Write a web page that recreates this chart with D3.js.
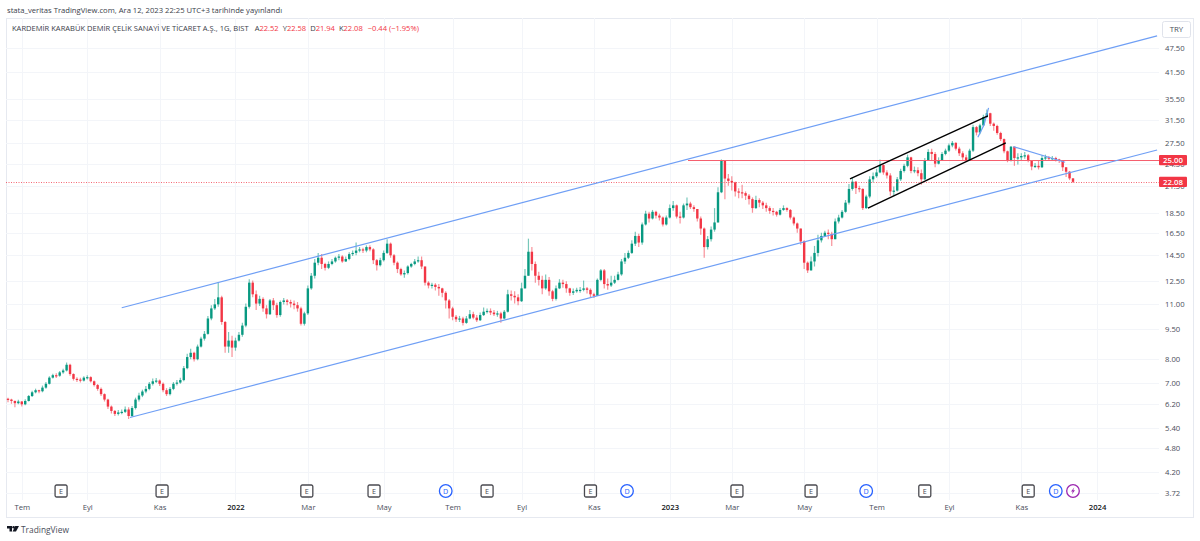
<!DOCTYPE html>
<html>
<head>
<meta charset="utf-8">
<script src="https://cdn.jsdelivr.net/npm/d3@7"></script>
<style>
	html, body { margin: 0; padding: 0; background: #fff; }
	svg { display: block; }
	text { font-family: "Open Sans", "Noto Sans", sans-serif; }
</style>
</head>
<body>
<svg id="chart" width="1200" height="541"></svg>
<script>
// candles, roughly one per two sessions
const closes = [
	6.35,6.30,6.22,6.28,6.18,6.30,6.48,6.62,6.70,6.66,
	6.8,6.95,7.2,7.3,7.28,7.42,7.5,7.75,7.35,7.15,
	7.12,7.08,7.2,7.22,7.05,6.9,6.75,6.55,6.35,6.1,
	5.95,5.85,5.9,5.92,6.0,5.78,6.05,6.35,6.5,6.65,
	6.75,6.95,7.05,7.08,6.95,6.7,6.55,6.75,6.95,7.0,
	7.1,7.6,8.1,8.3,8.0,8.6,9.0,9.25,10.1,10.7,
	10.95,11.4,9.9,8.6,8.9,8.55,8.9,9.2,9.7,10.8,
	12.4,11.6,11.0,11.3,10.7,10.35,11.2,10.9,10.3,11.1,
	11.2,11.1,11.0,10.9,10.7,9.8,10.4,12.0,12.9,13.9,
	14.3,13.8,13.5,13.8,14.0,14.3,14.4,14.0,14.2,14.6,
	14.7,14.9,15.0,14.9,15.2,15.0,14.1,13.7,14.1,14.7,
	15.5,14.5,13.9,13.4,13.0,13.1,13.6,13.8,14.0,14.1,
	13.6,12.4,12.2,12.25,12.1,12.0,11.7,11.2,10.7,10.2,
	10.05,10.1,9.85,10.1,10.35,10.15,10.0,10.3,10.5,10.55,
	10.45,10.35,10.4,10.1,10.5,11.6,11.5,11.4,11.15,12.0,
	12.9,14.8,13.8,12.9,12.6,12.0,12.6,11.8,11.3,12.0,
	12.4,12.3,12.0,11.7,11.8,11.9,11.9,12.0,11.9,11.6,
	11.5,12.6,13.3,12.3,12.2,12.4,12.6,13.0,14.0,14.3,
	14.7,15.5,16.2,15.6,17.3,18.4,17.9,18.6,18.2,18.0,
	17.3,18.0,19.0,19.3,18.1,18.0,19.3,19.5,19.1,18.9,
	17.9,16.9,15.2,15.9,16.8,17.5,20.8,24.9,22.5,22.2,
	22.0,20.9,20.8,20.7,20.4,20.0,19.0,19.9,19.6,19.3,
	19.0,18.7,18.6,18.3,18.8,19.0,18.8,18.0,17.4,16.9,
	15.7,13.9,13.3,14.0,14.7,15.8,16.2,16.5,16.4,15.9,
	17.6,18.0,18.6,19.6,21.2,22.1,21.3,21.2,19.0,20.3,
	22.4,22.8,23.3,24.3,23.3,22.9,20.9,21.0,22.4,23.5,
	24.2,25.4,23.5,23.6,23.2,22.4,25.0,26.2,25.9,24.5,
	25.0,25.9,26.4,27.2,27.6,26.7,26.0,25.4,25.0,26.4,
	30.2,29.3,30.5,32.0,32.7,30.8,30.4,29.2,28.2,26.3,
	25.0,27.0,25.3,25.4,25.6,25.7,24.9,24.1,24.2,24.0,
	25.3,25.4,25.2,25.3,25.1,24.9,24.0,23.4,22.52,22.08
];
const highs = [
	6.42,6.38,6.32,6.34,6.30,6.36,6.52,6.68,6.76,6.72,
	6.88,7.02,7.26,7.36,7.38,7.48,7.58,7.85,7.8,7.38,
	7.22,7.2,7.26,7.3,7.26,7.08,6.94,6.8,6.58,6.38,
	6.14,5.98,5.98,6.0,6.1,6.08,6.12,6.42,6.6,6.72,
	6.86,7.02,7.16,7.18,7.12,7.0,6.78,6.82,7.02,7.1,
	7.2,7.7,8.25,8.5,8.35,8.7,9.1,9.4,10.25,10.9,
	11.3,12.45,11.5,9.95,9.35,9.15,9.05,9.35,9.85,11.0,
	12.65,12.55,11.85,11.5,11.4,10.9,11.3,11.35,11.05,11.2,
	11.35,11.3,11.25,11.2,11.1,10.8,10.5,12.2,13.1,14.2,
	14.7,14.6,13.9,14.0,14.2,14.4,14.6,14.5,14.4,14.75,
	14.9,15.6,15.2,15.15,15.35,15.35,15.1,14.2,14.3,14.9,
	15.9,15.6,14.6,14.0,13.5,13.3,13.7,13.9,14.2,14.4,
	14.4,13.6,12.5,12.4,12.35,12.3,12.05,11.8,11.3,10.8,
	10.3,10.25,10.2,10.25,10.6,10.5,10.3,10.45,10.75,10.7,
	10.7,10.6,10.55,10.5,10.6,11.9,11.85,11.8,11.6,12.4,
	13.4,15.95,15.2,14.0,13.2,12.9,13.0,12.8,11.9,12.2,
	12.65,12.6,12.5,12.05,12.0,12.05,12.1,12.55,12.1,12.0,
	11.7,12.7,13.4,13.4,12.7,12.9,12.9,13.2,14.2,14.7,
	14.9,15.8,16.6,16.4,17.5,18.7,18.6,18.8,18.7,18.4,
	18.1,18.2,19.4,19.8,19.4,18.6,19.5,20.2,19.7,19.3,
	18.9,18.1,17.0,16.2,17.1,19.0,21.4,25.1,24.8,23.1,
	22.8,22.1,21.3,21.7,20.9,20.6,20.2,20.4,20.1,19.8,
	19.6,19.2,19.0,18.7,19.0,19.3,19.1,18.9,18.1,17.5,
	16.9,15.8,14.0,14.4,15.3,16.3,16.5,16.7,16.8,16.6,
	17.9,18.3,18.8,19.9,21.8,22.7,22.2,21.6,21.3,20.5,
	22.8,23.3,23.8,25.1,24.4,23.6,23.2,21.5,22.7,23.8,
	24.5,25.8,25.5,24.1,24.0,23.7,25.3,26.6,26.7,26.2,
	25.4,26.2,26.7,27.5,27.9,27.7,27.0,26.3,25.8,26.7,
	30.6,30.4,30.8,32.4,33.4,32.8,31.0,30.6,29.4,28.3,
	26.4,27.1,27.0,26.0,26.0,26.2,25.9,25.0,24.6,24.9,
	25.7,25.8,25.6,25.6,25.5,25.2,25.0,24.0,23.5,22.58
];
const lows = [
	6.25,6.2,6.08,6.18,6.1,6.15,6.28,6.44,6.58,6.58,
	6.62,6.76,6.92,7.16,7.18,7.24,7.36,7.46,7.28,7.08,
	7.02,7.0,7.04,7.12,7.0,6.84,6.68,6.48,6.28,6.02,
	5.86,5.78,5.8,5.84,5.88,5.68,5.75,6.0,6.28,6.44,
	6.58,6.7,6.88,6.98,6.86,6.62,6.48,6.5,6.7,6.88,
	6.95,7.05,7.55,8.0,7.9,7.95,8.55,8.9,9.2,10.0,
	10.6,10.8,9.75,8.3,8.3,8.1,8.4,8.85,9.1,9.6,
	10.7,11.4,10.6,10.85,10.5,10.1,10.3,10.6,10.15,10.2,
	10.95,10.9,10.75,10.65,10.5,9.7,9.7,10.3,11.9,12.7,
	13.7,13.4,13.3,13.4,13.7,13.9,14.1,13.9,13.95,14.1,
	14.45,14.5,14.75,14.7,14.75,14.85,13.8,13.3,13.6,14.0,
	14.6,14.3,13.7,13.1,12.9,12.75,13.0,13.5,13.7,13.9,
	13.4,12.2,12.0,12.0,11.85,11.5,11.4,10.7,10.1,10.0,
	9.9,9.9,9.7,9.8,10.05,10.05,9.9,9.95,10.25,10.4,
	10.3,10.25,10.2,9.85,10.05,10.45,11.2,11.0,10.9,11.1,
	12.0,12.9,13.3,12.4,12.2,11.6,11.9,11.5,11.15,11.2,
	11.95,12.05,11.7,11.5,11.55,11.7,11.7,11.8,11.65,11.4,
	11.35,11.5,12.5,12.0,11.9,12.1,12.3,12.55,12.9,13.8,
	14.2,14.6,15.3,15.2,15.4,17.2,17.5,17.8,17.9,17.7,
	17.1,17.2,17.9,18.7,17.9,17.4,17.9,18.8,18.9,18.6,
	17.6,16.3,14.3,15.0,15.7,16.6,17.5,20.7,20.0,21.6,
	21.0,20.3,20.1,20.1,19.9,19.4,18.5,18.9,19.1,18.9,
	18.6,18.4,18.2,18.1,18.2,18.7,18.6,17.8,17.2,16.5,
	15.4,13.4,13.1,13.3,13.6,14.4,15.6,16.1,15.9,15.3,
	15.9,17.4,17.9,18.5,19.4,21.0,20.6,20.8,18.8,18.9,
	20.1,22.0,22.6,23.2,23.0,22.5,20.4,20.4,20.9,22.2,
	23.3,24.0,23.2,23.2,22.8,21.7,22.3,24.9,25.0,24.0,
	24.4,24.9,25.7,26.2,26.9,26.4,25.6,25.0,24.8,25.0,
	26.2,28.8,29.0,30.3,31.8,30.4,29.6,28.9,27.9,26.0,
	24.7,24.8,24.2,24.4,25.0,25.2,24.7,23.6,23.9,23.7,
	23.9,25.0,24.9,24.9,24.8,24.6,23.5,22.7,22.3,21.94
];
const firstOpen = 6.38;

const priceTicks = [47.5,41.5,35.5,31.5,27.5,24.5,21.5,18.5,16.5,14.5,12.5,11,9.5,8,7,6.2,5.4,4.8,4.2,3.72];
const timeLabels = ["Tem","Eyl","Kas","2022","Mar","May","Tem","Eyl","Kas","2023","Mar","May","Tem","Eyl","Kas","2024"];
const timeBars = [4,23,44,66,87,109,129,149,170,192,210,231,252,273,294,316];

const earningsBars = [15.4,44.7,86.7,106.2,139,169,211.5,233,266,296];
const dividendBars = [127,179.6,249,304];
const splitBar = 309;

// drawings as [bar, price] pairs
const channelUpper = [[33,10.74],[333.4,50.9]];
const channelLower = [[35.4,5.73],[333.4,26.5]];
const blackUpper = [[244.3,22.46],[284.3,32.2]];
const blackLower = [[249.5,19.0],[289.5,27.6]];
const wedgeLine = [[291.7,27.0],[306.7,24.7]];
const peakLine = [[281.4,28.5],[283.2,30.6],[284.5,33.7]];
const resistance = 25;
const resistanceStart = 197.3;
const lastPrice = 22.08;

const titleText = "stata_veritas TradingView.com, Ara 12, 2023 22:25 UTC+3 tarihinde yayınlandı";
const symbolText = "KARDEMİR KARABÜK DEMİR ÇELİK SANAYİ VE TİCARET A.Ş., 1G, BIST";
const ohlcLetters = ["A","Y","D","K"];
const ohlcValues = ["22.52","22.58","21.94","22.08"];
const changeText = "−0.44 (−1.95%)";

const GREEN = "#089981", RED = "#f23645", BLUE = "#6f9ff5", GRID = "#f3f5f9", TEXT = "#4a4e5a";

const svg = d3.select("#chart");
const plotLeft = 6, plotRight = 1159, plotTop = 18, plotBottom = 500;

const x = d3.scaleLinear().domain([0, closes.length - 1]).range([8, 1073]);
const y = d3.scaleLog().domain([3.72, 47.5]).range([493, 48]);

// frame
svg.append("rect")
	.attr("x", plotLeft + 0.5).attr("y", plotTop + 0.5)
	.attr("width", 1193 - plotLeft).attr("height", 517 - plotTop)
	.attr("fill", "none").attr("stroke", "#e6e9f0");

// grid
svg.append("g").selectAll("line").data(priceTicks).enter().append("line")
	.attr("x1", plotLeft).attr("x2", plotRight)
	.attr("y1", d => Math.round(y(d)) + 0.5).attr("y2", d => Math.round(y(d)) + 0.5)
	.attr("stroke", GRID);
svg.append("g").selectAll("line").data(timeBars).enter().append("line")
	.attr("x1", d => Math.round(x(d)) + 0.5).attr("x2", d => Math.round(x(d)) + 0.5)
	.attr("y1", plotTop).attr("y2", plotBottom)
	.attr("stroke", GRID);

// axes
const yAxis = d3.axisRight(y).tickValues(priceTicks).tickSize(0).tickPadding(0)
	.tickFormat(d => d.toFixed(2));
const gy = svg.append("g").attr("transform", "translate(1165,0)").call(yAxis);
gy.select(".domain").remove();
gy.selectAll("text").attr("font-size", 7.7).attr("fill", TEXT).attr("font-family", "'Open Sans'");

const xAxis = d3.axisBottom(x).tickValues(timeBars).tickSize(0).tickPadding(0)
	.tickFormat((d, i) => timeLabels[i]);
const gx = svg.append("g").attr("transform", "translate(0,504.5)").call(xAxis);
gx.select(".domain").remove();
gx.selectAll("text").attr("font-size", 7.7).attr("font-family", "'Open Sans'")
	.attr("fill", d => /^\d+$/.test(timeLabels[timeBars.indexOf(d)]) ? "#131722" : TEXT)
	.attr("font-weight", d => /^\d+$/.test(timeLabels[timeBars.indexOf(d)]) ? 600 : 400);

// candles
const candles = closes.map((c, i) => ({
	i: i,
	open: i == 0 ? firstOpen : closes[i - 1],
	high: highs[i],
	low: lows[i],
	close: c
}));
const candleColor = d => d.close >= d.open ? GREEN : RED;

const plot = svg.append("g");
plot.selectAll(".wick").data(candles).enter().append("line")
	.attr("class", "wick")
	.attr("x1", d => x(d.i)).attr("x2", d => x(d.i))
	.attr("y1", d => y(d.high)).attr("y2", d => y(d.low))
	.attr("stroke", candleColor).attr("stroke-opacity", 0.55).attr("stroke-width", 1.2);
plot.selectAll(".body").data(candles).enter().append("rect")
	.attr("class", "body")
	.attr("x", d => x(d.i) - 1.2)
	.attr("width", 2.4)
	.attr("y", d => y(Math.max(d.open, d.close)))
	.attr("height", d => Math.max(1.2, Math.abs(y(d.open) - y(d.close))))
	.attr("fill", candleColor);

// last price and resistance lines
const priceLine = d3.line().x(d => x(d[0])).y(d => y(d[1]));
svg.append("line")
	.attr("x1", plotLeft).attr("x2", plotRight)
	.attr("y1", Math.round(y(lastPrice)) + 0.5).attr("y2", Math.round(y(lastPrice)) + 0.5)
	.attr("stroke", RED).attr("stroke-opacity", 0.75)
	.attr("stroke-dasharray", "1 1.5");
svg.append("line")
	.attr("x1", x(resistanceStart)).attr("x2", plotRight)
	.attr("y1", Math.round(y(resistance)) + 0.5).attr("y2", Math.round(y(resistance)) + 0.5)
	.attr("stroke", "#f5606f").attr("stroke-width", 1);

// trend lines
[channelUpper, channelLower, wedgeLine, peakLine].forEach(pts => {
	svg.append("path").attr("d", priceLine(pts))
		.attr("fill", "none").attr("stroke", BLUE).attr("stroke-width", 1.2);
});
[blackUpper, blackLower].forEach(pts => {
	svg.append("path").attr("d", priceLine(pts))
		.attr("fill", "none").attr("stroke", "#000").attr("stroke-width", 1.4);
});

// price labels, drawn over the axis ticks the way the platform does
[resistance, lastPrice].forEach(p => {
	svg.append("rect")
		.attr("x", 1159).attr("y", y(p) - 5.2)
		.attr("width", 28).attr("height", 10.4).attr("rx", 1)
		.attr("fill", RED);
	svg.append("text")
		.attr("x", 1173).attr("y", y(p) + 2.8)
		.attr("text-anchor", "middle")
		.attr("font-size", 7.8).attr("font-weight", 600).attr("fill", "#fff")
		.text(p.toFixed(2));
});

// currency box
svg.append("rect")
	.attr("x", 1162.5).attr("y", 21.5).attr("width", 28).attr("height", 16).attr("rx", 2)
	.attr("fill", "#fff").attr("stroke", "#e0e3eb");
svg.append("text")
	.attr("x", 1176.5).attr("y", 32.3).attr("text-anchor", "middle")
	.attr("font-size", 7.8).attr("fill", TEXT).text("TRY");

// event markers
const markerY = 491;
const earnings = svg.append("g").selectAll("g").data(earningsBars).enter().append("g")
	.attr("transform", d => "translate(" + x(d) + "," + markerY + ")");
earnings.append("rect")
	.attr("x", -6).attr("y", -6).attr("width", 12).attr("height", 12).attr("rx", 1.5)
	.attr("fill", "#fff").attr("stroke", "#4a4a50").attr("stroke-width", 1.3);
earnings.append("text")
	.attr("y", 2.6).attr("text-anchor", "middle").attr("font-size", 7.2).attr("fill", "#4a4a50")
	.text("E");

const dividends = svg.append("g").selectAll("g").data(dividendBars).enter().append("g")
	.attr("transform", d => "translate(" + x(d) + "," + markerY + ")");
dividends.append("circle")
	.attr("r", 6.3).attr("fill", "#fff").attr("stroke", "#2962ff").attr("stroke-width", 1.3);
dividends.append("text")
	.attr("y", 2.6).attr("text-anchor", "middle").attr("font-size", 7.2).attr("fill", "#2962ff")
	.text("D");

const split = svg.append("g").attr("transform", "translate(" + x(splitBar) + "," + markerY + ")");
split.append("circle")
	.attr("r", 6.3).attr("fill", "#fff").attr("stroke", "#9c27b0").attr("stroke-width", 1.3);
split.append("path")
	.attr("d", "M1.2,-3.6 L-2,0.6 L-0.2,0.6 L-1.2,3.6 L2,-0.8 L0.2,-0.8 Z")
	.attr("fill", "#9c27b0");

// header
svg.append("text")
	.attr("x", 7).attr("y", 13)
	.attr("font-size", 7.65).attr("fill", "#3a3e4a")
	.text(titleText);

const legend = svg.append("text")
	.attr("x", 12).attr("y", 31)
	.attr("font-size", 7.55).attr("fill", "#3a3e4a");
legend.append("tspan").text(symbolText);
ohlcLetters.forEach((l, i) => {
	legend.append("tspan").attr("dx", i == 0 ? 6 : 4).text(l);
	legend.append("tspan").attr("fill", RED).text(ohlcValues[i]);
});
legend.append("tspan").attr("dx", 5).attr("fill", RED).text(changeText);

// footer logo
const logo = svg.append("g").attr("transform", "translate(7,526)").attr("fill", "#131722");
logo.append("path").attr("d", "M0,0 H5 V5.5 H2.5 V2.5 H0 Z");
logo.append("circle").attr("cx", 6.6).attr("cy", 1.3).attr("r", 1.3);
logo.append("path").attr("d", "M8.2,0 H12 L9,5.5 H5.6 Z");
svg.append("text")
	.attr("x", 21).attr("y", 533)
	.attr("font-size", 8.4).attr("fill", "#4a4e5a")
	.text("TradingView");
</script>
</body>
</html>
